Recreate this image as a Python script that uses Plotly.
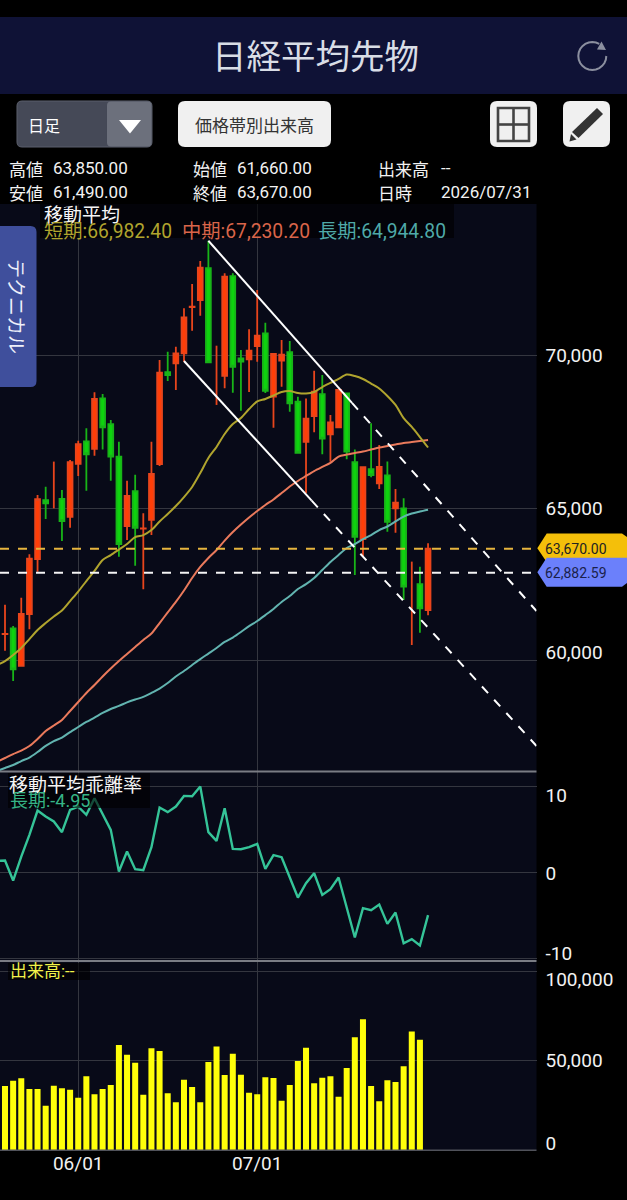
import math
import plotly.graph_objects as go

W, H = 627, 1200

# ---- chart data ----
sessions = list(range(53))
tick_sessions = [9, 31]
tick_dates = ["06/01", "07/01"]

opens = [60870, 61060, 59830, 61530, 63330, 65260, None, 65295, 64715, 66450,
         67185, 66940, 68590, 67750, 66680, 64410, 65550, 64330, 64610, 66440,
         69445, 69740, 70065, 71580, 71810, 72850, None, 69330, 72595, 69900,
         69870, 70305, 70720, 68645, 69825, 70100, 68480, 67170, 68010, 68730,
         67415, 67640, 68755, 66505, 63985, 66270, 65810, 66070, 64990, 64990,
         None, 62510, 61660]
closes = [60880, 59720, 61530, 63340, 65290, 65150, None, 64575, 66500, 67095,
          66760, 68570, 67640, 66680, 63820, 65395, 64355, 64335, 66115, 69430,
          69355, 70065, 71245, 71590, 72870, 69770, None, 72575, 69625, 69790,
          70150, 70640, 68840, 70045, 70020, 68430, 66810, 67925, 68810, 67270,
          67805, 68865, 66845, 64060, 66340, 66080, 66350, 64550, 65175, 62425,
          None, 61715, 63670]
highs = [61830, 61140, 62060, 63485, 65430, 65700, 66520, 65590, 66570, 67205,
         67610, 68790, 68730, 67880, 67170, 65895, 66090, 64825, 67170, 69845,
         70120, 70280, 71540, 72335, 73085, 73750, 70315, 72685, 72685, 70175,
         70850, 72140, 71065, 70050, 70500, 70470, 68645, 68590, 69495, 69355,
         68045, 68870, 68760, 66920, 66350, 67775, 67065, 66520, 65620, 65320,
         63245, 63080, 63850]
lows = [60330, 59340, 59800, 61030, 62915, 64640, 64990, 63920, 64355, 66050,
        65565, 66710, 66920, 65895, 63405, 63950, 63110, 62340, 64115, 66375,
        69160, 68865, 69790, 70805, 71295, 69770, 68375, 68920, 68775, 68185,
        68800, 69790, 68765, 67630, 68970, 68155, 66810, 65480, 67480, 66760,
        66515, 67620, 66595, 62805, 63405, 66005, 65620, 64225, 64190, 61990,
        60515, 60920, 61490]

ma_sessions = list(range(-1, 53))
ma_short = [59860, 59990, 60190, 60420, 60710, 61005, 61235, 61450, 61645, 61955,
            62265, 62610, 62940, 63300, 63460, 63640, 63820, 64050, 64115, 64280,
            64560, 64805, 65065, 65360, 65690, 66145, 66640, 67000, 67425, 67750,
            67945, 68240, 68490, 68570, 68685, 68800, 68830, 68765, 68750, 68800,
            68960, 69095, 69225, 69370, 69320, 69225, 69075, 68915, 68670, 68375,
            67945, 67655, 67325, 66982]
ma_mid = [56685, 56815, 56945, 57060, 57210, 57440, 57700, 57880, 58060, 58355,
          58650, 58945, 59205, 59485, 59745, 59990, 60220, 60450, 60680, 60890,
          61235, 61580, 61925, 62300, 62710, 63070, 63365, 63625, 63935, 64215,
          64460, 64690, 64900, 65100, 65280, 65490, 65705, 65885, 66050, 66210,
          66345, 66475, 66685, 66750, 66800, 66850, 66915, 66980, 67030, 67080,
          67130, 67160, 67195, 67230]
ma_long = [56390, 56490, 56585, 56715, 56830, 57010, 57210, 57370, 57485, 57665,
           57830, 57995, 58140, 58290, 58420, 58520, 58635, 58730, 58815, 58945,
           59090, 59270, 59485, 59665, 59860, 60055, 60235, 60415, 60615, 60760,
           60940, 61135, 61300, 61495, 61695, 61925, 62120, 62350, 62510, 62710,
           62970, 63235, 63460, 63690, 63820, 63985, 64115, 64280, 64395, 64560,
           64720, 64820, 64885, 64945]

deviation = [1.36, 1.40, -0.93, 1.86, 4.38, 7.21, 6.51, 5.93, 4.69, 7.29,
             7.67, 6.71, 8.64, 6.71, 4.96, 0.12, 2.44, 0.39, 0.27, 2.95,
             7.56, 7.02, 7.67, 8.91, 8.88, 10.0, 4.69, 3.68, 7.48, 2.75,
             2.71, 2.95, 3.33, 0.43, 2.02, 1.78, -0.54, -2.91, -1.24, -0.08,
             -2.60, -1.94, -0.58, -3.95, -7.56, -4.15, -4.38, -3.72, -5.97, -4.65,
             -8.22, -7.75, -8.49, -4.95]

volumes = [35900, 38870, 40180, 34220, 34220, 24920, 36080, 34600, 33850, 29390,
           41290, 31250, 34220, 36460, 58780, 53380, 48920, 31060, 56920, 55430,
           31800, 26780, 39430, 35340, 26780, 49290, 57850, 42040, 53940, 42220,
           32180, 31250, 40730, 40360, 27710, 36460, 49850, 57290, 37390, 40550,
           41290, 29950, 45940, 63050, 73100, 35900, 27340, 39060, 38130, 46870,
           66220, 61750]

last_price = 63670.00
reference_price = 62882.59

upper_solid_x = [25, 42.65]
upper_solid_y = [73750, 68440]
upper_dash_x = [42.65, 65.33]
upper_dash_y = [68440, 61628]
lower_solid_x = [22, 37.7]
lower_solid_y = [69813, 65240]
lower_dash_x = [37.7, 65.33]
lower_dash_y = [65240, 57210]

price_grid = [70000, 65000, 60000]
price_label_at = [70000, 65000, 60286]
price_labels = ["70,000", "65,000", "60,000"]
dev_grid = [10, 0, -10]
dev_label_at = [9.01, -0.05, -9.36]
dev_labels = ["10", "0", "-10"]
vol_grid = [100000, 50000, 0]
vol_label_at = [95590, 50390, 4070]
vol_labels = ["100,000", "50,000", "0"]

# ---- styling ----
FONT = "Roboto, 'Noto Sans CJK JP', sans-serif"
JP = "'Noto Sans CJK JP', Roboto, sans-serif"
PANEL = "#080a18"
GRID = "#34363f"
RED, RED_L = "#ff3e08", "#e8451c"
GREEN, GREEN_L = "#0ed30e", "#18b418"
PLOT_R = 536.5
X_RANGE = [-0.615, 65.33]


def px(x):
    return x / W


def py(y):
    return 1 - y / H


def poly(points, close=True):
    s = "M " + " L ".join(f"{px(x):.5f} {py(y):.5f}" for x, y in points)
    return s + (" Z" if close else "")


def rrect(x0, y0, x1, y1, r):
    p = lambda x, y: f"{px(x):.5f} {py(y):.5f}"
    return (f"M {p(x0+r,y0)} L {p(x1-r,y0)} Q {p(x1,y0)} {p(x1,y0+r)} L {p(x1,y1-r)} "
            f"Q {p(x1,y1)} {p(x1-r,y1)} L {p(x0+r,y1)} Q {p(x0,y1)} {p(x0,y1-r)} "
            f"L {p(x0,y0+r)} Q {p(x0,y0)} {p(x0+r,y0)} Z")


fig = go.Figure()

# candles: sessions with no visible body are drawn as plain wicks
fig.add_trace(go.Candlestick(
    x=sessions, open=opens, high=highs, low=lows, close=closes,
    increasing=dict(line=dict(color=RED_L, width=1.8), fillcolor=RED),
    decreasing=dict(line=dict(color=GREEN_L, width=1.8), fillcolor=GREEN),
    whiskerwidth=0, xaxis="x", yaxis="y", hoverinfo="skip", showlegend=False))
wx, wy = [], []
for i in sessions:
    if opens[i] is None:
        wx += [i, i, None]
        wy += [lows[i], highs[i], None]
fig.add_trace(go.Scatter(x=wx, y=wy, mode="lines", line=dict(color=RED_L, width=1.8),
                         xaxis="x", yaxis="y", hoverinfo="skip", showlegend=False))

for vals, col in ((ma_long, "#62b4b0"), (ma_mid, "#ea7a5c"), (ma_short, "#b0a42e")):
    fig.add_trace(go.Scatter(x=ma_sessions, y=vals, mode="lines",
                             line=dict(color=col, width=2, shape="spline", smoothing=0.8),
                             xaxis="x", yaxis="y", hoverinfo="skip", showlegend=False))

for xs, ys, dash in ((upper_solid_x, upper_solid_y, "solid"), (upper_dash_x, upper_dash_y, "9px,9px"),
                     (lower_solid_x, lower_solid_y, "solid"), (lower_dash_x, lower_dash_y, "9px,9px")):
    fig.add_trace(go.Scatter(x=xs, y=ys, mode="lines", line=dict(color="#ffffff", width=2, dash=dash),
                             xaxis="x", yaxis="y", hoverinfo="skip", showlegend=False))

for level, col in ((last_price, "#e6b53e"), (reference_price, "#f4f4f4")):
    fig.add_trace(go.Scatter(x=X_RANGE, y=[level, level], mode="lines",
                             line=dict(color=col, width=2, dash="9px,9px"), xaxis="x", yaxis="y",
                             hoverinfo="skip", showlegend=False))

fig.add_trace(go.Scatter(x=ma_sessions, y=deviation, mode="lines",
                         line=dict(color="#35c498", width=2.4), xaxis="x2", yaxis="y2",
                         hoverinfo="skip", showlegend=False))

fig.add_trace(go.Bar(x=sessions[:len(volumes)], y=volumes, width=0.74,
                     marker=dict(color="#ffff0a", line=dict(width=0)), xaxis="x3", yaxis="y3",
                     hoverinfo="skip", showlegend=False))

tickfont = dict(family=FONT, size=19, color="#f2f2f2")


def yaxis(dom, rng, label_at, labels, grid, anchor):
    return dict(domain=[py(dom[1]), py(dom[0])], range=rng, side="right", anchor=anchor,
                tickmode="array", tickvals=label_at, ticktext=labels, tickfont=tickfont,
                ticks="", showgrid=False, zeroline=False, showline=False, automargin=False,
                ticklabelstandoff=8,
                minor=dict(tickmode="array", tickvals=grid, showgrid=True,
                           gridcolor=GRID, gridwidth=1, ticks=""))


def xaxis(anchor, labels=False):
    return dict(domain=[0, px(PLOT_R)], range=X_RANGE, anchor=anchor, tickmode="array",
                tickvals=tick_sessions, ticktext=tick_dates, showticklabels=labels,
                tickfont=tickfont, ticks="", showgrid=True, gridcolor=GRID, gridwidth=1,
                zeroline=False, showline=False, automargin=False,
                rangeslider=dict(visible=False))


shapes = []


def add_path(path, fill=None, line=None, lw=0, layer="above"):
    shapes.append(dict(type="path", xref="paper", yref="paper", path=path,
                       fillcolor=fill or "rgba(0,0,0,0)",
                       line=dict(color=line or "rgba(0,0,0,0)", width=lw), layer=layer))


def add_rect(x0, y0, x1, y1, fill, layer="above"):
    shapes.append(dict(type="rect", xref="paper", yref="paper", x0=px(x0), x1=px(x1),
                       y0=py(y1), y1=py(y0), fillcolor=fill, line=dict(width=0), layer=layer))


# header band and controls
add_rect(0, 17, W, 94, "#0f1236", "below")
add_path(rrect(17, 101, 152, 147, 5), fill="#454957", line="#5b5f6c", lw=1)
add_path(rrect(107, 101.5, 151.5, 146.5, 4), fill="#6c707c")
add_path(poly([(119, 120), (141, 120), (130, 133.5)]), fill="#ffffff")
add_path(rrect(178, 101, 331, 147, 7), fill="#f0f0f0")
add_path(rrect(490, 101, 537, 147, 7), fill="#f0f0f0")
add_path(rrect(563, 101, 610, 147, 7), fill="#f0f0f0")
add_path(poly([(498, 108), (529, 108), (529, 141), (498, 141)]), line="#444444", lw=2.6)
add_path(poly([(513.5, 108), (513.5, 141)], close=False), line="#444444", lw=2.6)
add_path(poly([(498, 124.5), (529, 124.5)], close=False), line="#444444", lw=2.6)
add_path(poly([(597, 108), (603, 114), (578.5, 138), (572, 132)]), fill="#333333")
add_path(poly([(571, 134), (576.5, 139.5), (569.5, 141.5)]), fill="#333333")
arc = [(592.3 + 14 * math.cos(math.radians(a)), 56 - 14 * math.sin(math.radians(a)))
       for a in range(60, 375, 15)]
add_path(poly(arc, close=False), line="#8b8f9f", lw=2)
add_path(poly([(601.5, 41.5), (606, 50), (597, 49.5)]), fill="#8b8f9f")

# technical tab
add_path(rrect(-8, 226, 36.5, 387, 6), fill="#3f4f9c")

# panel separators
for y in (771.5, 961):
    add_rect(0, y - 1, PLOT_R, y + 1, "#7a7c84")
add_rect(0, 1149.5, PLOT_R, 1151, "#50525a")

# legend backdrops
add_rect(40, 204, 454, 238, "rgba(0,0,0,0.62)")
add_rect(8, 773, 150, 808, "rgba(0,0,0,0.62)")
add_rect(8, 963, 90, 980, "rgba(0,0,0,0.62)")

# price tags
add_path(poly([(537.3, 548.3), (546.7, 533.5), (622, 533.5), (627, 537), (627, 562), (546.7, 562)]), fill="#f4bf0a")
add_path(poly([(537.3, 572.3), (546.7, 557.7), (627, 557.7), (627, 583), (622, 586.7), (546.7, 586.7)]), fill="#6b80fb")

annotations = []


def note(x, y, text, size, color, anchor="left", family=JP, **kw):
    annotations.append(dict(xref="paper", yref="paper", x=px(x), y=py(y), text=text,
                            showarrow=False, xanchor=anchor, yanchor="middle",
                            font=dict(family=family, size=size, color=color), borderpad=0, **kw))


note(315, 54, "日経平均先物", 34.5, "#d9dde6", "center")
note(27, 125, "日足", 16, "#ffffff")
note(254.5, 125, "価格帯別出来高", 17, "#333333", "center")
for x, y, t in ((8, 168, "高値"), (8, 192, "安値"), (192, 168, "始値"), (192, 192, "終値"),
                (377, 168, "出来高"), (377, 192, "日時")):
    note(x, y, t, 17, "#f2f2f2")
for x, y, t in ((52, 168, "63,850.00"), (52, 192, "61,490.00"), (235.5, 168, "61,660.00"),
                (235.5, 192, "63,670.00"), (440, 168, "--"), (440, 192, "2026/07/31")):
    note(x, y, t, 17, "#f2f2f2", family=FONT)
note(43, 213, "移動平均", 19, "#f5f5f5")
note(43, 231, "短期:66,982.40", 19.3, "#b0a42e", family=FONT)
note(181, 231, "中期:67,230.20", 19.3, "#d9654a", family=FONT)
note(317, 231, "長期:64,944.80", 19.3, "#4fa9a8", family=FONT)
note(8, 783, "移動平均乖離率", 19, "#f5f5f5")
note(9, 800, "長期:-4.95", 18, "#35b486", family=FONT)
note(9, 971, "出来高:--", 17, "#f2f24a", family=FONT)
note(18, 306, "テクニカル", 19, "#eef0fa", "center", textangle=90)
note(544, 549, "63,670.00", 14, "#222222", family=FONT)
note(544, 572.5, "62,882.59", 14, "#1a1f4a", family=FONT)

fig.update_layout(
    width=W, height=H, autosize=False,
    margin=dict(l=0, r=0, t=0, b=0, pad=0),
    paper_bgcolor="#000000", plot_bgcolor=PANEL,
    showlegend=False, barmode="overlay", boxgap=0.15,
    xaxis=xaxis("y"), xaxis2=xaxis("y2"), xaxis3=xaxis("y3", labels=True),
    yaxis=yaxis((204, 771), [56390, 74954], price_label_at, price_labels, price_grid, "x"),
    yaxis2=yaxis((772, 961), [-10.29, 11.69], dev_label_at, dev_labels, dev_grid, "x2"),
    yaxis3=yaxis((962, 1150.3), [0, 105070], vol_label_at, vol_labels, vol_grid, "x3"),
    shapes=shapes, annotations=annotations,
    font=dict(family=FONT, color="#f2f2f2"),
)

fig.write_html("out.html", config=dict(displayModeBar=False, staticPlot=True),
               post_script="document.body.style.margin='0';document.body.style.background='#000';")
